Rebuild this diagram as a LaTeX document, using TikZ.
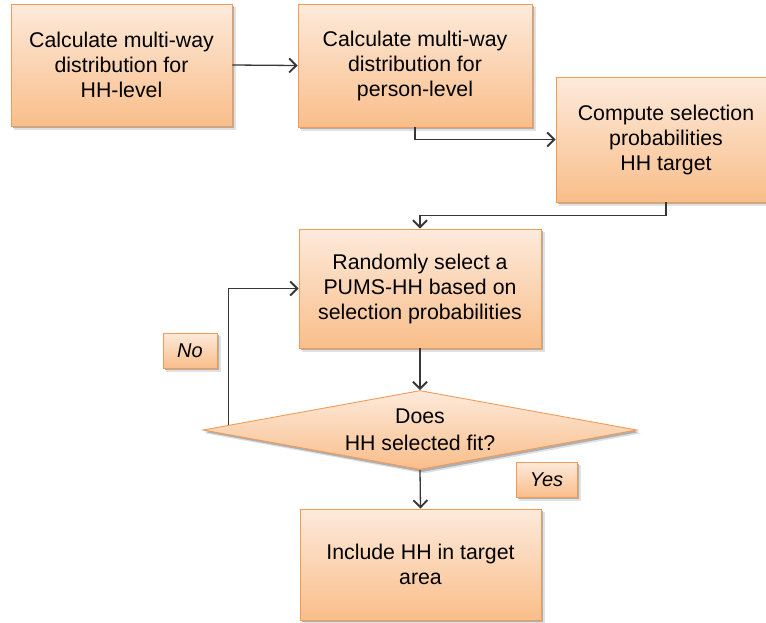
\documentclass[tikz,border=0pt]{standalone}
\usepackage{fontspec}
\setmainfont{Liberation Sans}
\usetikzlibrary{arrows.meta,calc,shapes.geometric,backgrounds}

\definecolor{peachtop}{RGB}{253,234,219}
\definecolor{peachbot}{RGB}{249,190,138}
\definecolor{peachline}{RGB}{240,155,88}
\definecolor{wire}{RGB}{55,55,55}
\definecolor{shadeA}{RGB}{225,225,225}
\definecolor{shadeB}{RGB}{175,175,175}

\tikzset{
  peach/.style={
    top color=peachtop, bottom color=peachbot,
    draw=peachline, line width=0.9pt},
  stepbox/.style={peach, rectangle, inner sep=0pt, align=center,
    font=\fontsize{21.3}{25}\selectfont},
  tagbox/.style={peach, rectangle, inner sep=0pt,
    font=\fontsize{20}{24}\selectfont\itshape},
  decision/.style={peach, diamond, inner sep=0pt},
  arr/.style={draw=wire, line width=1.3pt,
    -{Straight Barb[length=7pt,width=14pt,line width=1.9pt]}},
}

% soft drop shadow behind a rectangular node
\newcommand\castshadow[1]{%
  \fill[shadeA] ($(#1.north west)+(3.5,3.5)$) rectangle ($(#1.south east)+(3.5,3.5)$);
  \fill[shadeB] ($(#1.north west)+(2,2)$) rectangle ($(#1.south east)+(2,2)$);}

\begin{document}
\begin{tikzpicture}[x=1pt,y=-1pt]
\useasboundingbox (0,0) rectangle (766,622);

% process steps
\node[stepbox, minimum width=221pt, minimum height=122pt] (b1) at (121.5,65)
  {Calculate multi-way\\distribution for\\HH-level};
\node[stepbox, minimum width=234pt, minimum height=123pt] (b2) at (415,65.5)
  {Calculate multi-way\\distribution for\\person-level};
\node[stepbox, minimum width=220pt, minimum height=125pt] (b3) at (666,139.5)
  {Compute selection\\probabilities\\HH target};
\node[stepbox, minimum width=242pt, minimum height=119pt] (b4) at (420,288.5)
  {Randomly select a\\PUMS-HH based on\\selection probabilities};

% decision
\node[decision, minimum width=434pt, minimum height=79pt,
  label={[align=center, font=\fontsize{21.3}{27}\selectfont]center:Does\\HH selected fit?}]
  (dec) at (420,430) {};

\node[stepbox, minimum width=241pt, minimum height=111pt] (b5) at (420.5,564.5)
  {Include HH in target\\area};

% branch tags
\node[tagbox, minimum width=54pt, minimum height=35pt] (no) at (190,350.5) {No};
\node[tagbox, minimum width=61pt, minimum height=35pt] (yes) at (546.5,479.5) {Yes};

% shadows
\begin{scope}[on background layer]
  \foreach \n in {b1,b2,b3,b4,b5,no,yes} {\castshadow{\n}}
  \fill[shadeA] ($(dec.north)+(3.5,3.5)$) -- ($(dec.east)+(3.5,3.5)$)
    -- ($(dec.south)+(3.5,3.5)$) -- ($(dec.west)+(3.5,3.5)$) -- cycle;
  \fill[shadeB] ($(dec.north)+(2,2)$) -- ($(dec.east)+(2,2)$)
    -- ($(dec.south)+(2,2)$) -- ($(dec.west)+(2,2)$) -- cycle;
\end{scope}

% connectors
\draw[arr] (b1.east) -- (b2.west);
\draw[arr] (b2.south) |- (b3.west);
\draw[arr] (b3.south) -- ++(0,13) -| (b4.north);
\draw[arr] (b4.south) -- (dec.north);
\draw[arr] (dec.south) -- (b5.north);
\coordinate (loopstart) at ($(dec.west)!0.12!(dec.north)$);
\draw[arr] (loopstart) |- (b4.west);
\end{tikzpicture}
\end{document}
